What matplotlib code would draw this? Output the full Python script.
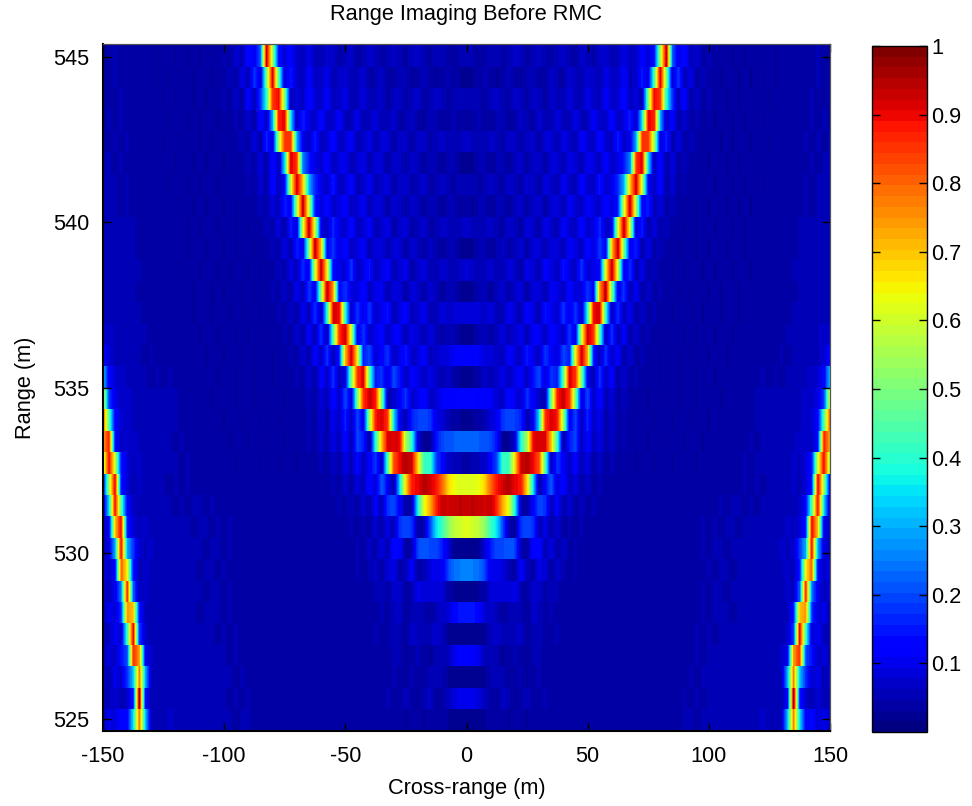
import numpy as np
import matplotlib
matplotlib.use("Agg")
import matplotlib.pyplot as plt
from matplotlib.colors import Normalize
from matplotlib.cm import ScalarMappable

plt.rcParams['font.family'] = ['Liberation Sans', 'DejaVu Sans']
plt.rcParams['axes.unicode_minus'] = False

title = "Range Imaging Before RMC"
x_label = "Cross-range (m)"
y_label = "Range (m)"
x_ticks = [-150, -100, -50, 0, 50, 100, 150]
y_ticks = [525, 530, 535, 540, 545]
c_ticks = [0.1, 0.2, 0.3, 0.4, 0.5, 0.6, 0.7, 0.8, 0.9, 1]
c_tick_labels = ["0.1", "0.2", "0.3", "0.4", "0.5", "0.6", "0.7", "0.8", "0.9", "1"]
range_top = 545.32
range_bottom = 524.63
cross_step = 2.5

# intensity x 100, one row per range bin (top to bottom), cross-range 0..150 m
half_rows = [
 [5,5,4,4,6,6,4,5,7,6, 4,5,7,5,4,6,7,5,4,7, 6,4,7,8,5,6,10,6,7,13, 8,14,55,95,22,10,14,5,8,4, 5,4,4,4,3,4,3,4,3,4, 4,3,4,4,4,4,4,4,5,4, 4],
 [3,3,4,5,4,3,4,6,4,3, 5,6,4,4,7,5,4,8,6,5, 8,7,5,10,7,7,12,6,7,15, 8,45,93,50,8,18,5,10,4,6, 4,4,3,4,4,3,4,3,4,3, 4,3,4,4,4,4,4,4,5,4, 4],
 [6,6,5,4,6,7,5,4,7,6, 4,7,6,4,7,6,5,9,6,5, 10,7,6,12,7,8,14,6,9,5, 50,90,85,40,18,5,14,4,7,4, 5,4,4,3,4,3,4,4,3,4, 3,4,4,4,4,4,4,5,4,4, 4],
 [3,4,5,4,3,5,6,3,4,7, 5,4,8,5,5,9,6,5,10,6, 6,12,7,7,14,6,9,16,6,35, 90,88,30,6,14,4,8,4,5,4, 4,3,4,4,3,4,3,4,4,3, 4,4,4,4,4,4,4,5,4,5, 4],
 [7,6,5,5,7,6,4,7,7,4, 7,7,4,8,8,5,10,7,5,12, 8,6,14,8,6,15,7,10,30,85, 85,55,8,16,4,9,4,6,4,4, 4,4,3,4,3,4,4,3,4,4, 3,4,4,4,4,4,5,4,5,4, 5],
 [3,3,5,5,3,5,6,3,6,7, 4,7,7,4,8,8,5,10,8,5, 11,9,6,13,7,9,15,25,85,92, 35,5,14,4,9,4,6,4,4,4, 3,4,4,3,4,3,4,4,3,4, 4,4,4,4,4,4,4,5,4,5, 5],
 [6,6,4,5,7,5,4,8,6,4, 8,7,4,9,7,5,11,7,5,13, 8,6,15,7,10,17,30,70,93,60, 12,6,14,4,8,4,5,4,4,4, 4,3,4,4,3,4,3,4,4,3, 4,4,4,4,4,4,5,4,5,5, 5],
 [4,3,5,5,3,5,6,3,6,7, 4,7,8,4,8,9,5,11,8,6, 12,9,7,14,8,15,60,95,55,12, 15,5,9,4,6,4,4,4,3,4, 3,4,4,3,4,3,4,3,4,4, 4,4,4,4,4,4,5,4,5,5, 5],
 [7,6,5,6,7,5,4,8,6,4, 9,7,4,10,7,5,12,8,6,14, 7,9,17,6,10,60,95,60,8,15, 4,9,4,6,4,4,3,4,3,4, 4,3,4,4,3,4,3,4,4,4, 4,4,4,4,4,5,5,5,6,5, 5],
 [3,3,5,5,3,5,7,4,6,8, 4,8,8,5,9,9,5,12,9,6, 14,9,18,12,70,95,50,10,16,4, 10,4,6,4,4,3,4,4,3,4, 3,4,4,3,4,4,3,4,4,4, 4,4,4,4,4,5,5,5,5,5, 6],
 [8,7,5,6,8,5,5,9,7,4, 10,8,5,12,9,6,15,9,6,18, 8,10,12,65,95,60,10,17,5,10, 4,6,4,4,3,4,3,4,4,3, 4,3,4,4,3,4,4,3,4,4, 4,4,4,4,5,5,5,5,6,6, 6],
 [3,3,5,6,3,6,8,4,7,9, 4,9,9,5,11,10,6,14,8,8, 18,12,75,95,50,10,18,5,11,4, 7,4,5,4,4,3,4,3,4,4, 3,4,3,4,4,3,4,4,4,4, 4,4,4,4,4,5,5,5,6,6, 6],
 [9,9,8,7,9,6,5,11,8,5, 13,9,5,15,10,7,18,10,18,6, 40,90,92,40,5,18,5,11,4,7, 4,5,4,4,3,4,4,3,4,3, 4,4,3,4,4,3,4,4,4,4, 4,4,4,4,5,5,5,6,6,6, 6],
 [3,3,5,6,4,6,9,5,8,10, 5,11,11,6,14,10,7,18,10,60, 93,85,45,5,18,5,12,4,8,4, 5,4,4,3,4,4,3,4,3,4, 4,3,4,4,3,4,4,4,4,4, 4,4,4,5,5,5,5,6,6,7, 8],
 [12,12,11,9,9,7,6,12,9,6, 15,10,6,18,12,8,20,15,65,93, 72,15,5,18,6,13,4,8,4,5, 4,4,3,4,4,3,4,3,4,4, 3,4,4,3,4,4,4,4,4,4, 4,4,5,4,5,5,5,6,6,8, 12],
 [3,3,4,7,5,7,10,6,10,12, 6,14,20,8,18,15,45,92,85,50, 10,5,18,6,13,4,8,4,5,4, 4,4,3,4,4,3,4,4,3,4, 4,3,4,4,4,4,4,4,4,5, 4,5,4,5,5,6,6,7,8,12, 32],
 [13,13,12,12,11,8,7,14,10,7, 18,11,7,5,50,88,93,85,50,8, 20,6,14,5,9,4,6,4,4,4, 3,4,4,3,4,3,4,4,3,4, 4,4,3,4,4,4,4,4,5,5, 5,5,5,6,6,6,7,7,9,18, 62],
 [3,3,4,5,8,10,18,20,19,16, 5,10,35,85,92,88,55,10,20,6, 16,6,11,4,8,4,5,4,4,4, 4,3,4,4,3,4,4,3,4,4, 3,4,4,4,4,4,4,4,5,5, 5,5,6,5,6,6,7,8,12,45, 82],
 [22,22,22,21,20,14,3,3,8,40, 55,90,92,92,70,40,3,15,20,5, 14,5,10,4,7,4,5,4,4,4, 3,4,4,3,4,4,3,4,4,3, 4,4,4,4,4,4,4,5,4,5, 5,6,5,6,6,7,8,6,14,88, 72],
 [4,5,6,7,12,20,42,42,68,92, 95,90,82,45,5,18,12,6,13,5, 10,4,7,4,5,4,4,4,3,4, 4,3,4,4,3,4,4,4,3,4, 4,4,4,4,4,4,5,4,5,5, 5,5,6,5,7,6,8,15,60,90, 55],
 [62,62,63,68,80,88,92,95,90,88, 68,35,3,12,22,8,14,5,9,4, 7,4,5,4,4,4,4,4,4,4, 4,4,4,4,4,4,4,4,4,4, 4,4,4,4,4,4,5,4,5,4, 5,5,6,5,7,5,8,15,92,55, 10],
 [93,94,93,92,93,87,72,62,38,5, 3,12,20,18,5,12,4,8,4,6, 4,5,4,4,4,4,4,4,4,4, 4,4,4,4,4,4,4,4,4,4, 4,4,5,4,5,5,4,5,4,5, 5,6,5,6,5,7,12,45,90,35, 7],
 [62,60,58,52,42,35,20,5,3,18, 20,18,5,10,4,8,4,5,4,5, 4,4,4,4,4,4,4,4,4,4, 4,4,4,4,4,4,4,4,4,5, 4,5,4,5,5,4,5,5,5,5, 5,6,5,7,6,8,15,90,70,10, 7],
 [2,2,3,8,15,20,20,22,20,5, 3,12,14,5,9,4,7,4,5,4, 4,4,4,4,4,4,4,4,4,4, 4,4,4,4,4,4,4,4,4,5, 4,5,5,4,5,5,5,6,5,5, 6,5,7,6,7,18,30,90,30,9, 6],
 [26,25,24,20,10,10,9,5,4,12, 6,4,10,8,4,7,5,4,5,4, 4,4,4,4,4,4,4,4,4,4, 4,4,4,4,4,4,4,4,4,4, 5,4,5,5,4,5,5,5,6,5, 6,5,6,7,5,15,65,80,12,7, 9],
 [3,3,3,4,8,9,8,8,10,5, 3,8,7,4,6,5,4,4,4,4, 4,4,4,4,4,4,4,4,4,4, 4,4,4,4,4,4,4,4,4,5, 4,5,5,4,5,5,5,5,6,5, 5,6,5,7,6,22,88,25,10,6, 8],
 [15,15,13,8,7,6,3,5,6,5, 3,7,6,4,5,4,4,4,4,4, 4,4,4,4,4,4,4,4,4,4, 4,4,4,4,4,4,4,4,4,5, 4,5,5,5,4,5,5,5,5,6, 6,5,6,6,15,70,75,18,8,10, 5],
 [2,2,2,3,6,7,6,5,6,7, 3,5,6,4,4,5,4,4,4,4, 4,4,4,4,4,4,4,4,4,4, 4,4,4,4,4,4,4,4,5,4, 5,4,5,5,5,6,5,5,6,5, 5,6,5,7,18,92,42,8,11,6, 5],
 [11,12,10,6,5,5,3,4,5,4, 3,5,5,4,4,4,4,4,4,4, 4,4,4,4,4,4,4,4,4,4, 4,4,4,4,4,4,4,4,5,4, 5,5,5,5,6,5,5,6,5,6, 6,5,7,10,75,85,20,14,6,9, 5],
 [2,2,2,3,5,5,5,4,4,5, 3,4,5,4,4,4,4,4,4,4, 4,4,4,4,4,4,4,4,4,4, 4,4,4,4,4,4,4,5,4,5, 5,5,6,5,5,6,5,6,5,5, 5,6,6,30,78,32,18,7,10,5, 7],
 [10,10,9,6,4,3,7,5,3,4, 6,4,4,5,4,4,4,4,4,4, 4,4,4,4,4,4,4,4,4,4, 4,4,4,4,4,4,5,4,5,4, 5,5,6,5,6,6,5,5,6,5, 5,6,5,12,100,15,7,5,8,6, 6],
 [3,3,3,3,4,4,4,3,4,4, 3,4,4,4,4,4,4,4,4,4, 4,4,4,4,4,4,4,4,4,4, 4,4,4,4,4,4,5,5,4,5, 5,5,6,5,6,6,5,6,6,7, 5,5,6,32,78,35,12,14,8,10, 7],
]

bad = [(i, len(r)) for i, r in enumerate(half_rows) if len(r) != 61]
if bad:
    raise ValueError(bad)

W, H = 972, 806
fig = plt.figure(figsize=(W / 100, H / 100), dpi=100, facecolor='white')
ax = fig.add_axes([103 / W, 1 - 731 / H, (830 - 103) / W, (731 - 44) / H])
cax = fig.add_axes([872 / W, 1 - 732 / H, (927 - 872) / W, (732 - 46) / H])

cmap = plt.get_cmap('jet', 64)
norm = Normalize(vmin=0.0, vmax=1.0)

n_rows = len(half_rows)
row_h = (range_top - range_bottom) / n_rows
half_width = cross_step * 60 + cross_step / 2
for i, r in enumerate(half_rows):
    vals = np.array(r, float) / 100.0
    full = np.concatenate([vals[:0:-1], vals])[None, :]
    ax.imshow(full, extent=(-half_width, half_width, range_top - (i + 1) * row_h, range_top - i * row_h),
              aspect='auto', cmap=cmap, norm=norm, interpolation='bilinear',
              interpolation_stage='data', origin='upper')

ax.set_xlim(-150, 150)
ax.set_ylim(524.63, 545.38)
ax.set_xticks(x_ticks)
ax.set_yticks(y_ticks)
ax.tick_params(axis='both', direction='in', length=5.5, width=1, top=True, right=True,
               labelsize=15.7, color='black')
ax.tick_params(axis='x', pad=11)
ax.tick_params(axis='y', pad=10)
ax.set_title(title, fontsize=15.7, pad=17)
ax.set_xlabel(x_label, fontsize=15.7, labelpad=8)
ax.set_ylabel(y_label, fontsize=15.7, labelpad=12)
for s in ['left', 'bottom']:
    ax.spines[s].set_linewidth(1.5)
for s in ['top', 'right']:
    ax.spines[s].set_linewidth(0.9)
    ax.spines[s].set_color('#555555')

cb = fig.colorbar(ScalarMappable(norm=norm, cmap=cmap), cax=cax)
cb.set_ticks(c_ticks)
cb.set_ticklabels(c_tick_labels)
cb.ax.tick_params(direction='in', length=6, width=1, left=True, right=True, labelsize=15.7, pad=3)
cb.outline.set_linewidth(1.0)

fig.savefig('out.png', dpi=100)
